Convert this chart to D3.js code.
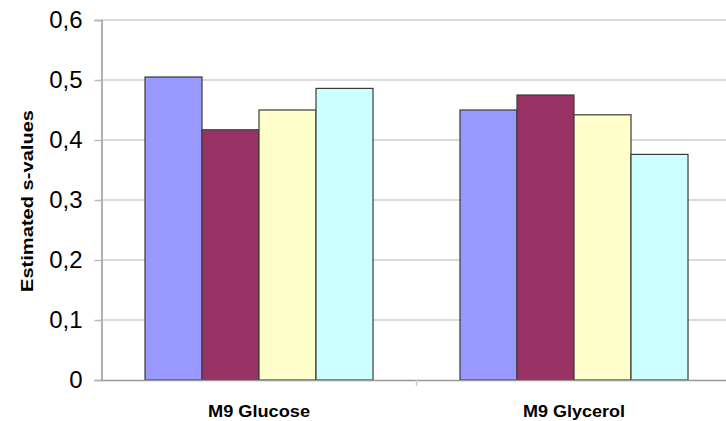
<!doctype html>
<html>
<head>
<style>
  html, body { margin: 0; padding: 0; background: #fff; }
  svg { display: block; }
  .lbl { font-family: "Liberation Sans", Arial, sans-serif; font-weight: bold; fill: #000; }
</style>
<script src="https://cdnjs.cloudflare.com/ajax/libs/d3/7.8.5/d3.min.js"></script>
</head>
<body>
<script>
// data
var categories = ["M9 Glucose", "M9 Glycerol"];
var series = ["s1", "s2", "s3", "s4"];
var glucose = [0.505, 0.417, 0.450, 0.486];
var glycerol = [0.450, 0.475, 0.442, 0.376];
var yTicks = [0, 0.1, 0.2, 0.3, 0.4, 0.5, 0.6];
var colors = ["#9999ff", "#993366", "#ffffcc", "#ccffff"];

var values = [glucose, glycerol];

var width = 726, height = 421;
var plotLeft = 101.5, plotTop = 20, plotBottom = 380, plotRight = 731.5;

var svg = d3.select("body").append("svg")
    .attr("width", width)
    .attr("height", height);

var y = d3.scaleLinear().domain([0, 0.6]).range([plotBottom, plotTop]);
var x0 = d3.scaleBand().domain(categories).range([plotLeft, plotRight]).paddingInner(0).paddingOuter(0);
var x1 = d3.scaleBand().domain(series).range([0, x0.bandwidth()]).paddingInner(0).paddingOuter(0.763);

// gridlines
svg.append("g").selectAll("line")
    .data(yTicks.slice(1))
    .enter().append("line")
    .attr("x1", plotLeft).attr("x2", width)
    .attr("y1", function (d) { return y(d); })
    .attr("y2", function (d) { return y(d); })
    .attr("stroke", "#cfcfcf")
    .attr("stroke-width", 1.5);

// y axis
var yAxis = d3.axisLeft(y)
    .tickValues(yTicks)
    .tickSize(7)
    .tickPadding(12)
    .tickFormat(function (d) { return d === 0 ? "0" : d3.format(".1f")(d).replace(".", ","); });

var gy = svg.append("g")
    .attr("transform", "translate(" + plotLeft + ",0)")
    .call(yAxis);
gy.select(".domain").attr("stroke", "#999").attr("stroke-width", 1.5);
gy.selectAll(".tick line").attr("stroke", "#bbb").attr("stroke-width", 1.5);
gy.selectAll("text")
    .attr("fill", "#000")
    .style("font-family", "'Liberation Sans', Arial, sans-serif")
    .style("font-size", "24px");

// bars
var groups = svg.append("g").selectAll("g")
    .data(categories)
    .enter().append("g")
    .attr("transform", function (d) { return "translate(" + x0(d) + ",0)"; });

groups.selectAll("rect")
    .data(function (d, i) { return values[i].map(function (v, j) { return { s: series[j], v: v, c: colors[j] }; }); })
    .enter().append("rect")
    .attr("x", function (d) { return x1(d.s); })
    .attr("y", function (d) { return y(d.v); })
    .attr("width", x1.bandwidth())
    .attr("height", function (d) { return plotBottom - y(d.v); })
    .attr("fill", function (d) { return d.c; })
    .attr("stroke", "#3a3a3a")
    .attr("stroke-width", 1.2);

// x axis
var xAxis = d3.axisBottom(x0).tickSize(0).tickFormat("");
var gx = svg.append("g")
    .attr("transform", "translate(0," + plotBottom + ")")
    .call(xAxis);
gx.select(".domain").attr("stroke", "#999").attr("stroke-width", 1.5);

svg.append("g").selectAll("line")
    .data(categories)
    .enter().append("line")
    .attr("x1", function (d) { return x0(d) + x0.bandwidth(); })
    .attr("x2", function (d) { return x0(d) + x0.bandwidth(); })
    .attr("y1", plotBottom).attr("y2", plotBottom + 6)
    .attr("stroke", "#ccc").attr("stroke-width", 1.5);

svg.append("g").selectAll("text")
    .data(categories)
    .enter().append("text")
    .attr("class", "lbl")
    .attr("x", function (d) { return x0(d) + x0.bandwidth() / 2; })
    .attr("y", 417)
    .attr("text-anchor", "middle")
    .attr("font-size", "16px")
    .attr("textLength", 102)
    .attr("lengthAdjust", "spacingAndGlyphs")
    .text(function (d) { return d; });

// y axis title
svg.append("text")
    .attr("class", "lbl")
    .attr("transform", "translate(33,201) rotate(-90)")
    .attr("text-anchor", "middle")
    .attr("font-size", "16px")
    .attr("textLength", 182)
    .attr("lengthAdjust", "spacingAndGlyphs")
    .text("Estimated s-values");
</script>
</body>
</html>
